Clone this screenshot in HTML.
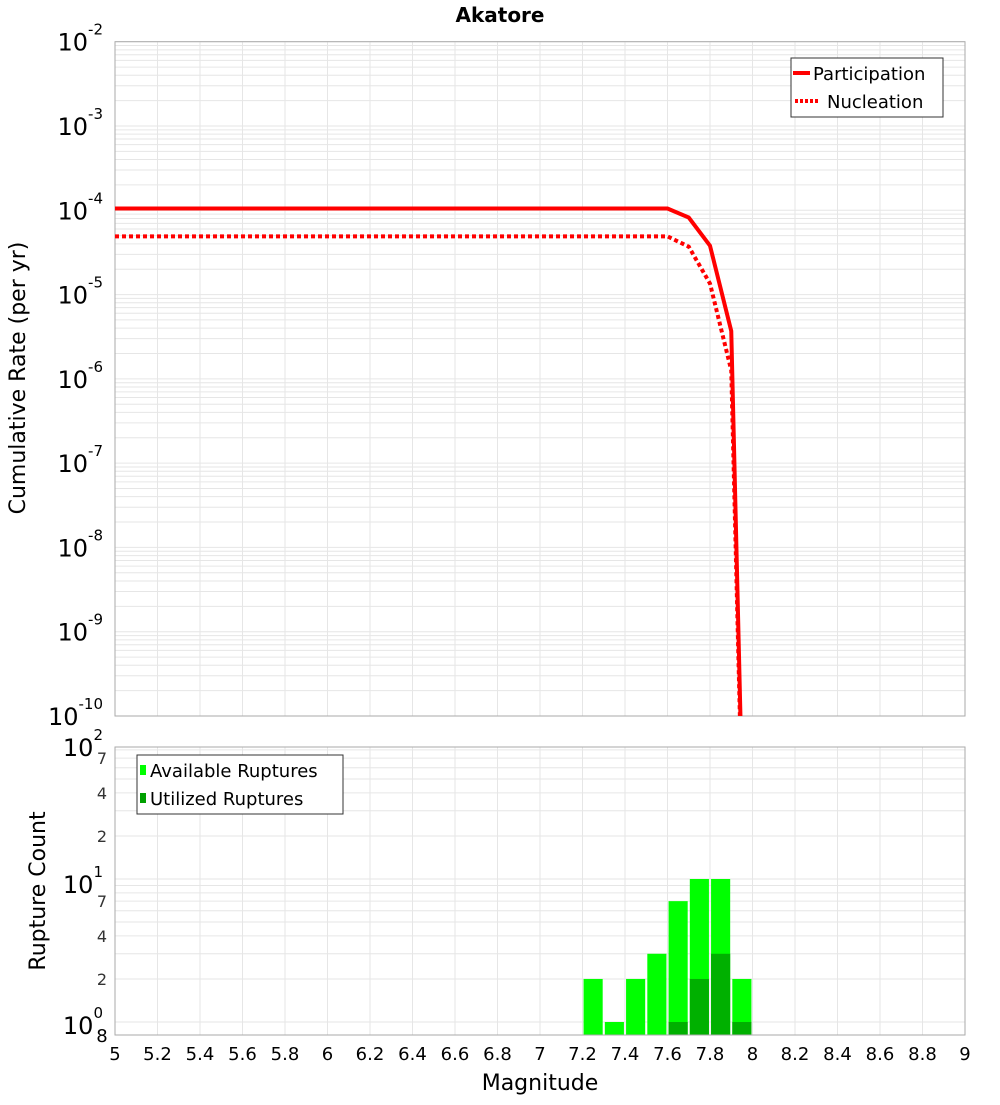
<!DOCTYPE html>
<html><head><meta charset="utf-8"><style>
body{margin:0;background:#fff;}
svg text{font-family:"DejaVu Sans","Liberation Sans",sans-serif;}
</style></head><body>
<svg id="chart" width="1000" height="1100" xmlns="http://www.w3.org/2000/svg">
<text x="500" y="22" text-anchor="middle" font-size="20" font-weight="bold">Akatore</text>
<g id="topg"></g><g id="botg"></g>
<text transform="translate(25,378) rotate(-90)" text-anchor="middle" font-size="22">Cumulative Rate (per yr)</text>
<text transform="translate(45,891) rotate(-90)" text-anchor="middle" font-size="22">Rupture Count</text>
<text x="540" y="1090" text-anchor="middle" font-size="22">Magnitude</text>
</svg>
<script>
const mags=[5,7.6,7.7,7.8,7.9,8.0];
const participation=[1.05e-4,1.05e-4,8.2e-5,3.8e-5,3.7e-6,1e-16];
const nucleation=[4.9e-5,4.9e-5,3.7e-5,1.35e-5,1.26e-6,1e-16];
const binMags=[7.2,7.3,7.4,7.5,7.6,7.7,7.8,7.9];
const available=[2,1,2,3,7,10,10,2];
const utilized=[0,0,0,0,1,2,3,1];
const xTicks=[5,5.2,5.4,5.6,5.8,6,6.2,6.4,6.6,6.8,7,7.2,7.4,7.6,7.8,8,8.2,8.4,8.6,8.8,9];
const topDecades=[-2,-3,-4,-5,-6,-7,-8,-9,-10];
const botMinor=[2,4,7,20,40,70];

const NS="http://www.w3.org/2000/svg";
const L=115,R=965,T1=41.7,B1=716,T2=747,B2=1035;
const x=m=>L+(m-5)/4*(R-L);
const y1=v=>T1+(-2-Math.log10(v))*(B1-T1)/8;
const y2=v=>1022-Math.log10(v)*143;
function mk(p,tag,a,txt){const e=document.createElementNS(NS,tag);for(const k in a)e.setAttribute(k,a[k]);if(txt!==undefined)e.textContent=txt;p.appendChild(e);return e;}
const topG=document.getElementById('topg'),botG=document.getElementById('botg');
const defs=mk(document.getElementById('chart'),'defs',{});
const c1=mk(defs,'clipPath',{id:'c1'});mk(c1,'rect',{x:L,y:T1,width:R-L,height:B1-T1});
const c2=mk(defs,'clipPath',{id:'c2'});mk(c2,'rect',{x:L,y:T2,width:R-L,height:B2-T2});
for(const d of topDecades){
  for(let k=1;k<10;k++){const v=k*Math.pow(10,d);const yy=y1(v);if(yy<T1-0.5||yy>B1)continue;
    const g=mk(topG,'line',{x1:L,x2:R,y1:yy,y2:yy,stroke:'#e6e6e6','stroke-width':1});
    
    }
  const yy=y1(Math.pow(10,d));
  const t=mk(topG,'text',{x:103,y:yy+9,'text-anchor':'end','font-size':24});
  
  
  t.textContent='10';
  mk(t,'tspan',{dy:-16,'font-size':15},String(d));
}
for(const m of xTicks){
  const g=mk(topG,'line',{x1:x(m),x2:x(m),y1:T1,y2:B1,stroke:'#e6e6e6'});
  
  
  const g2=mk(botG,'line',{x1:x(m),x2:x(m),y1:T2,y2:B2,stroke:'#e6e6e6'});
  
  
  const t=mk(botG,'text',{x:x(m),y:1060,'text-anchor':'middle','font-size':18},String(m));
  
  
}
const f1=mk(topG,'rect',{x:L,y:T1,width:R-L,height:B1-T1,fill:'none',stroke:'#aaa'});


function line(vals,dash,name){
  const p=mk(topG,'polyline',{points:mags.map((m,i)=>x(m)+','+y1(vals[i])).join(' '),fill:'none',stroke:'#ff0000','stroke-width':4,'clip-path':'url(#c1)'});
  if(dash)p.setAttribute('stroke-dasharray','4 3');
  
  
}
line(participation,false,'participation-line');
line(nucleation,true,'nucleation-line');
const lg=mk(topG,'g',{});


mk(lg,'rect',{x:791,y:58,width:152,height:59,fill:'#fff',stroke:'#333'});
mk(lg,'line',{x1:793,x2:810,y1:73,y2:73,stroke:'#f00','stroke-width':4});
mk(lg,'text',{x:813,y:80,'font-size':18},'Participation');
mk(lg,'line',{x1:795,x2:820,y1:101,y2:101,stroke:'#f00','stroke-width':4,'stroke-dasharray':'3 2'});
mk(lg,'text',{x:827,y:108,'font-size':18},'Nucleation');
for(const v of [1,10].concat(botMinor).concat([3,5,6,8,9,30,50,60,80])){
  const yy=y2(v);if(yy<T2||yy>B2)continue;
  const g=mk(botG,'line',{x1:L,x2:R,y1:yy,y2:yy,stroke:'#e6e6e6'});
  
  
}
for(const v of botMinor){
  const t=mk(botG,'text',{x:107,y:y2(v)+6,'text-anchor':'end','font-size':16,fill:'#333'},String(v%10===0?v/10:v));
  
  
}
[[2,756],[1,893],[0,1034]].forEach(([e,yy])=>{
  const t=mk(botG,'text',{x:103,y:yy,'text-anchor':'end','font-size':24});
  
  
  t.textContent='10';mk(t,'tspan',{dy:-16,'font-size':15},String(e));
});
const t8=mk(botG,'text',{x:102,y:1042,'text-anchor':'middle','font-size':18},'8');


binMags.forEach((m,i)=>{
  const b=mk(botG,'rect',{x:x(m+0.005),y:y2(available[i]),width:x(m+0.095)-x(m+0.005),height:B2-y2(available[i]),fill:'#00ff00','clip-path':'url(#c2)'});
  
  
  if(utilized[i]>0){
    const u=mk(botG,'rect',{x:x(m+0.005),y:y2(utilized[i]),width:x(m+0.095)-x(m+0.005),height:B2-y2(utilized[i]),fill:'#00b000','clip-path':'url(#c2)'});
    
    
  }
});
const f2=mk(botG,'rect',{x:L,y:T2,width:R-L,height:B2-T2,fill:'none',stroke:'#aaa'});


const lg2=mk(botG,'g',{});


mk(lg2,'rect',{x:137,y:755,width:206,height:59,fill:'#fff',stroke:'#333'});
mk(lg2,'rect',{x:140,y:765,width:6,height:10,fill:'#00ff00'});
mk(lg2,'text',{x:150,y:777,'font-size':18},'Available Ruptures');
mk(lg2,'rect',{x:140,y:793,width:6,height:10,fill:'#00a000'});
mk(lg2,'text',{x:150,y:805,'font-size':18},'Utilized Ruptures');
</script>
</body></html>
